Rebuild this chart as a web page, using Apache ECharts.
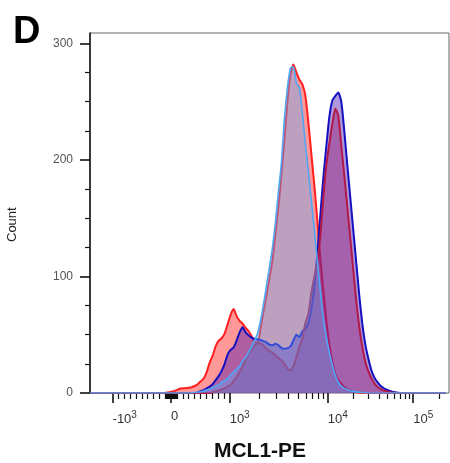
<!DOCTYPE html>
<html><head><meta charset="utf-8">
<script src="https://cdn.jsdelivr.net/npm/echarts@6/dist/echarts.min.js"></script>
<style>html,body{margin:0;padding:0;background:#fff}#c{width:450px;height:463px}</style>
</head><body><div id="c"></div>
<script>
// ---- data ----
// MCL1-PE display range (fluorescence units) and histogram bins (uniform in display space)
const X_MIN = -1698, X_MAX = 262144;
const BIN_COUNT = 120;
const majorTickValues = [-1000, 0, 1000, 10000, 100000];
const majorTickLabels = [['-10','3'], ['0',''], ['10','3'], ['10','4'], ['10','5']];
const minorTickValues = [-900,-800,-700,-600,-500,-400,-300,-200,-100,
  -90,-80,-70,-60,-50,-40,-30,-20,-10,10,20,30,40,50,60,70,80,90,
  100,200,300,400,500,600,700,800,900,
  2000,3000,4000,5000,6000,7000,8000,9000,
  20000,30000,40000,50000,60000,70000,80000,90000,200000];
const yLabelValues = [0, 100, 200, 300];
const yMinorValues = [25,50,75,125,150,175,225,250,275];
const Y_MAX = 309;

const countsRed = [
  0,0,0,0,0,0,0,0,0,0, 0,0,0,0,0,0,0,0,0,0, 0,0,0,0,0,
  0,0.5,1,1.5,2.5,3.6,4,4.2,4.5,5,6,7.5,10,12.5,18,26,32,40,45,47,51,59,67,72,66,62,59.5,56,53,49,44,43,55,70,84,99,114,137,160,188,218,250,273,282,275,269,265,255,232,205,178,148,115,88,62,42,27,16,11,8,5,3.5,2.2,1.3,0.7,0.3,0,
  0,0,0,0,0,0,0,0,0,0, 0,0,0,0,0,0,0,0,0,0, 0,0,0,0,0,0,0,0];
const countsDarkBlue = [
  0,0,0,0,0,0,0,0,0,0, 0,0,0,0,0,0,0,0,0,0, 0,0,0,0,0,0,0,0,0,0, 0,0,0,0,0,0,
  0.5,1.5,2.5,4,5.5,7.5,11,14.5,19,25,33,37,39,45,52,56.5,52,49.5,47.5,46.5,46,45.5,44.5,43.5,41.5,41,42.3,41,38.5,38,38.5,40,45,50,48,53,55,60,72,92,120,153,185,212,237,251,255,258,250,225,196,168,140,112,84,60,42,30,20,13.5,9.5,6.5,4.5,3,2,1.2,0.7,0.3,0,
  0,0,0,0,0,0,0,0,0,0, 0,0,0,0,0];
const countsMaroon = [
  0,0,0,0,0,0,0,0,0,0, 0,0,0,0,0,0,0,0,0,0, 0,0,0,0,0,0,0,0,0,0, 0,0,0,0,0,0,0,0,0,0, 0,
  0.7,1.3,2,3,4,5.5,7,10,13.5,18,23,29,33.5,38,41,42.5,42.5,40.5,38,36,34.5,32.5,30,28,25,21,19.5,23,31,39.5,47,60,68,86,100,113,135,168,196,214,231,244,238,212,187,160,133,106,79,57,40,27,19,13,8.5,5.5,3.5,2.3,1.5,0.8,0.4,0,
  0,0,0,0,0,0,0,0,0,0, 0,0,0,0,0,0,0];
const countsLightBlue = [
  0,0,0,0,0,0,0,0,0,0, 0,0,0,0,0,0,0,0,0,0, 0,0,0,0,0,0,0,0,0,0, 0,0,0,0,
  0.3,0.5,0.7,1,1.8,2.5,3.5,4.5,5.8,7,9,10.5,12.5,15.5,18,20.5,23,27.5,30.5,35,39.5,45,51,62,76,92,108,125,147,173,198,236,262,279,280,266,262,240,214,190,165,140,113,88,64,48,35,24,15,9,6,4,3,2,1.5,1,0.7,0.4,0.2,0,
  0,0,0,0,0,0,0,0,0,0, 0,0,0,0,0,0,0,0,0,0, 0,0,0,0,0,0];

// ---- biexponential-like display transform ----
const LIN = 1000, DEC1 = 1.675, DEC2 = 1.46;
function biex(v) {
  const a = Math.abs(v);
  let t;
  if (a <= LIN) t = a / LIN;
  else if (a <= 10 * LIN) t = 1 + DEC1 * Math.log10(a / LIN);
  else t = 1 + DEC1 + DEC2 * Math.log10(a / (10 * LIN));
  return v < 0 ? -t : t;
}
const lo = biex(X_MIN), hi = biex(X_MAX);
const step = (hi - lo) / BIN_COUNT;
function toSeries(counts) { return counts.map((c, i) => [lo + i * step, c]); }

const FONT = '"Liberation Sans", Arial, sans-serif';
const chart = echarts.init(document.getElementById('c'), null, {renderer: 'canvas'});

function lineSeries(name, counts, line, fill, w, z) {
  return {
    name, type: 'line', data: toSeries(counts), showSymbol: false, smooth: 0.2,
    xAxisIndex: 0, yAxisIndex: 0, z,
    lineStyle: {color: line, width: w},
    areaStyle: {color: fill, opacity: 1},
    emphasis: {disabled: true}, silent: true
  };
}

chart.setOption({
  animation: false,
  backgroundColor: '#fff',
  grid: {left: 90, right: 1, top: 33, bottom: 70, show: true, borderColor: '#666', borderWidth: 1},
  xAxis: [{
    type: 'value', min: lo, max: hi, position: 'bottom',
    axisLine: {show: false, onZero: false},
    splitLine: {show: false},
    axisTick: {show: true, customValues: majorTickValues.map(biex), length: 10, lineStyle: {color: '#111', width: 1.6}},
    axisLabel: {
      show: true, customValues: majorTickValues.map(biex), align: 'left', margin: 17,
      formatter: function (val) {
        let j = 0, best = 1e9;
        majorTickValues.forEach((v, k) => { const d = Math.abs(biex(v) - val); if (d < best) { best = d; j = k; } });
        const [b, s] = majorTickLabels[j];
        return s ? '{b|' + b + '}{s|' + s + '}' : '{b|' + b + '}';
      },
      rich: {
        b: {fontSize: 13, color: '#333', fontFamily: FONT},
        s: {fontSize: 10, color: '#333', fontFamily: FONT, verticalAlign: 'bottom', padding: [0, 0, 9, 0]}
      }
    }
  }, {
    type: 'value', min: lo, max: hi, position: 'bottom',
    axisLine: {show: false, onZero: false}, splitLine: {show: false}, axisLabel: {show: false},
    axisTick: {show: true, customValues: minorTickValues.map(biex), length: 6, lineStyle: {color: '#111', width: 1.2}}
  }],
  yAxis: [{
    type: 'value', min: 0, max: Y_MAX, position: 'left',
    axisLine: {show: true, onZero: false, lineStyle: {color: '#111', width: 1.5}},
    splitLine: {show: false},
    axisTick: {show: true, customValues: yLabelValues, length: 10, lineStyle: {color: '#111', width: 1.6}},
    axisLabel: {show: true, customValues: yLabelValues, margin: 17, fontSize: 12, color: '#555', fontFamily: FONT}
  }, {
    type: 'value', min: 0, max: Y_MAX, position: 'left',
    axisLine: {show: false, onZero: false}, splitLine: {show: false}, axisLabel: {show: false},
    axisTick: {show: true, customValues: yMinorValues, length: 5, lineStyle: {color: '#111', width: 1.2}}
  }],
  series: [
    lineSeries('red', countsRed, '#ff1f1f', 'rgba(255,0,0,0.4)', 2, 2),
    lineSeries('darkblue', countsDarkBlue, '#1510c0', 'rgba(80,25,175,0.45)', 2, 3),
    lineSeries('maroon', countsMaroon, '#b01848', 'rgba(155,30,115,0.45)', 2, 4),
    lineSeries('lightblue', countsLightBlue, '#4fa6f5', 'rgba(90,170,250,0.4)', 1.6, 5)
  ],
  graphic: [
    {type: 'text', left: 13, top: 14, style: {text: 'D', font: 'bold 38px ' + FONT, fill: '#000'}},
    {type: 'text', x: 6, y: 242, rotation: Math.PI / 2, style: {text: 'Count', font: '13px ' + FONT, fill: '#222'}},
    {type: 'text', x: 260, y: 441, style: {text: 'MCL1-PE', font: 'bold 21px ' + FONT, fill: '#111', textAlign: 'center'}}
  ]
});
</script></body></html>
